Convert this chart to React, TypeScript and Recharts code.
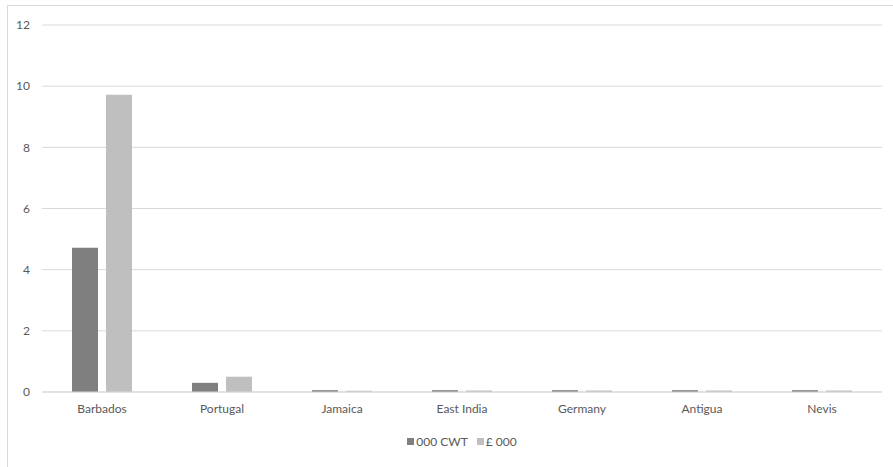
import { BarChart, Bar, XAxis, YAxis, CartesianGrid } from "recharts";

const places = ["Barbados", "Portugal", "Jamaica", "East India", "Germany", "Antigua", "Nevis"];
const cwt = [4.72, 0.3, 0.06, 0.06, 0.06, 0.06, 0.06];
const pounds = [9.72, 0.5, 0.04, 0.05, 0.05, 0.05, 0.05];
const yTicks = [0, 2, 4, 6, 8, 10, 12];

const seriesNames = ["000 CWT", "£ 000"];
const colors = ["#7f7f7f", "#bfbfbf"];

const rows = places.map((place, i) => ({ place, cwt: cwt[i], pounds: pounds[i] }));

const font = "Lato, 'Open Sans', sans-serif";
const tickStyle = { fill: "#595959", fontSize: 12, fontFamily: font };

export default function App() {
  return (
    <div style={{ position: "absolute", left: 0, top: 0, width: 893, height: 467, background: "#fff", overflow: "hidden" }}>
      <div
        style={{
          position: "absolute",
          left: 7,
          top: 5,
          width: 890,
          height: 470,
          borderTop: "1px solid #d9d9d9",
          borderLeft: "1px solid #d9d9d9",
        }}
      />
      <div style={{ position: "absolute", left: 0, top: 0 }}>
        <BarChart
          width={893}
          height={467}
          data={rows}
          margin={{ top: 25, right: 11, bottom: 45, left: 7 }}
          barSize={26}
          barGap={8}
        >
          <CartesianGrid vertical={false} stroke="#d9d9d9" />
          <XAxis
            dataKey="place"
            height={30}
            tick={tickStyle}
            tickLine={false}
            tickSize={0}
            tickMargin={12}
            axisLine={{ stroke: "#d9d9d9" }}
            interval={0}
          />
          <YAxis
            width={35}
            domain={[0, 12]}
            ticks={yTicks}
            tick={tickStyle}
            tickLine={false}
            axisLine={false}
            tickSize={0}
            tickMargin={12}
          />
          <Bar dataKey="cwt" name={seriesNames[0]} fill={colors[0]} isAnimationActive={false} />
          <Bar dataKey="pounds" name={seriesNames[1]} fill={colors[1]} isAnimationActive={false} />
        </BarChart>
      </div>
      <div
        style={{
          position: "absolute",
          left: 42,
          top: 434,
          width: 840,
          display: "flex",
          justifyContent: "center",
          gap: 9,
          fontFamily: font,
          fontSize: 12,
          color: "#595959",
        }}
      >
        {seriesNames.map((name, i) => (
          <span key={name} style={{ display: "flex", alignItems: "center" }}>
            <span style={{ width: 7, height: 7, background: colors[i], display: "inline-block", marginRight: 2 }} />
            {name}
          </span>
        ))}
      </div>
    </div>
  );
}
